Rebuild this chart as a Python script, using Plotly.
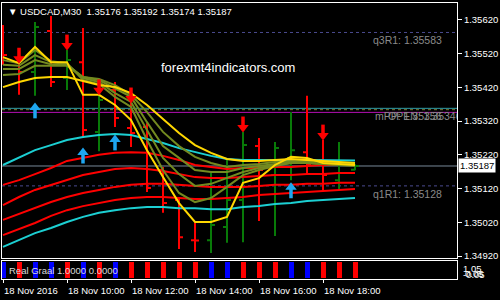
import pandas as pd
import plotly.graph_objects as go

# ---------------- data ----------------
times = pd.date_range("2016-11-18 08:00", periods=23, freq="30min")

opens  = [1.35590,1.35495,1.35466,1.35587,1.35448,1.35495,1.35288,1.35412,1.35300,1.35303,1.35175,1.35086,
          1.34967,1.34967,1.35006,1.35086,1.35246,1.35160,1.35211,1.35228,1.35205,1.35145,1.35176]
highs  = [1.35605,1.35501,1.35614,1.35632,1.35531,1.35596,1.35403,1.35436,1.35412,1.35314,1.35184,1.35095,
          1.35018,1.35166,1.35205,1.35288,1.35270,1.35258,1.35347,1.35395,1.35264,1.35258,1.35192]
lows   = [1.35487,1.35398,1.35395,1.35421,1.35412,1.35270,1.35231,1.35303,1.35243,1.35110,1.35048,1.34941,
          1.34932,1.34929,1.34959,1.34961,1.35024,1.34979,1.35145,1.35160,1.35116,1.35116,1.35174]
closes = [1.35516,1.35466,1.35599,1.35436,1.35501,1.35294,1.35383,1.35329,1.35285,1.35122,1.35077,1.34976,
          1.34966,1.35012,1.35086,1.35249,1.35175,1.35240,1.35234,1.35190,1.35160,1.35190,1.35187]

cyan_upper = [1.35190,1.35211,1.35234,1.35249,1.35264,1.35273,1.35279,1.35282,1.35279,1.35267,1.35255,1.35240,
              1.35228,1.35217,1.35208,1.35205,1.35205,1.35204,1.35204,1.35205,1.35204,1.35203,1.35203]
cyan_lower = [1.34947,1.34967,1.34988,1.35003,1.35021,1.35036,1.35048,1.35056,1.35062,1.35065,1.35065,1.35062,
              1.35062,1.35059,1.35059,1.35065,1.35068,1.35074,1.35077,1.35083,1.35086,1.35089,1.35092]
red_1 = [1.35131,1.35145,1.35163,1.35181,1.35202,1.35211,1.35220,1.35226,1.35228,1.35226,1.35217,1.35205,
         1.35190,1.35184,1.35178,1.35181,1.35181,1.35184,1.35184,1.35187,1.35190,1.35190,1.35193]
red_2 = [1.35071,1.35095,1.35116,1.35131,1.35145,1.35160,1.35169,1.35178,1.35181,1.35178,1.35172,1.35163,
         1.35154,1.35151,1.35151,1.35154,1.35157,1.35160,1.35160,1.35163,1.35163,1.35166,1.35166]
red_3 = [1.35027,1.35045,1.35062,1.35080,1.35095,1.35107,1.35116,1.35125,1.35131,1.35134,1.35134,1.35131,
         1.35128,1.35125,1.35125,1.35125,1.35128,1.35131,1.35131,1.35134,1.35134,1.35137,1.35137]
red_4 = [1.34982,1.35000,1.35018,1.35039,1.35056,1.35068,1.35077,1.35086,1.35092,1.35095,1.35095,1.35092,
         1.35089,1.35089,1.35092,1.35095,1.35101,1.35104,1.35107,1.35110,1.35113,1.35116,1.35119]
yellow_fast = [1.35510,1.35492,1.35540,1.35495,1.35495,1.35398,1.35398,1.35368,1.35323,1.35234,1.35154,1.35077,
               1.35021,1.35021,1.35036,1.35137,1.35151,1.35190,1.35214,1.35211,1.35196,1.35193,1.35190]
yellow_slow = [1.35421,1.35436,1.35448,1.35451,1.35451,1.35439,1.35427,1.35421,1.35403,1.35368,1.35326,1.35285,
               1.35249,1.35226,1.35208,1.35202,1.35202,1.35205,1.35208,1.35205,1.35202,1.35199,1.35196]
olive_1 = [1.35501,1.35492,1.35531,1.35498,1.35492,1.35442,1.35430,1.35392,1.35362,1.35264,1.35175,1.35107,
           1.35080,1.35092,1.35125,1.35160,1.35175,1.35187,1.35196,1.35196,1.35193,1.35190,1.35187]
olive_2 = [1.35487,1.35484,1.35516,1.35495,1.35489,1.35448,1.35436,1.35403,1.35377,1.35294,1.35211,1.35163,
           1.35128,1.35134,1.35151,1.35169,1.35181,1.35190,1.35196,1.35196,1.35193,1.35190,1.35190]
olive_3 = [1.35475,1.35475,1.35501,1.35489,1.35487,1.35451,1.35442,1.35418,1.35392,1.35317,1.35246,1.35211,
           1.35175,1.35169,1.35169,1.35181,1.35187,1.35193,1.35199,1.35199,1.35196,1.35193,1.35193]
olive_4 = [1.35457,1.35460,1.35484,1.35484,1.35484,1.35451,1.35445,1.35427,1.35398,1.35347,1.35288,1.35246,
           1.35214,1.35196,1.35184,1.35190,1.35193,1.35199,1.35202,1.35202,1.35199,1.35196,1.35196]

sell_bars = [1, 4, 6, 8, 15, 20]
sell_tips = [1.35492, 1.35531, 1.35398, 1.35374, 1.35288, 1.35264]
buy_bars = [2, 5, 7, 18]
buy_tips = [1.35374, 1.35240, 1.35279, 1.35137]

graal_dir = ["up","dn","up","up","dn","up","dn","up","dn","dn","dn","dn","dn",
             "up","up","dn","dn","dn","up","up","dn","dn","dn"]
graal_val = [1.0] * 23

levels = {"q3R1": 1.35583, "mPP": 1.35358, "OPEN": 1.35354, "MAG": 1.35346, "q1R1": 1.35128}
price_ticks = [1.34920, 1.35020, 1.35120, 1.35220, 1.35320, 1.35420, 1.35520, 1.35620]
time_tick_idx = [0, 4, 8, 12, 16, 20]
time_tick_text = ["18 Nov 2016", "18 Nov 10:00", "18 Nov 12:00", "18 Nov 14:00", "18 Nov 16:00", "18 Nov 18:00"]

# ---------------- layout helpers ----------------
W, H = 500, 300
ML, MR, MT, MB = 2, 43, 3, 21
plot_w = W - ML - MR
plot_h = H - MT - MB
bar_px = 16.0
step = pd.Timedelta(minutes=30)
x0 = times[0] - step * (1.0 / bar_px)
x1 = x0 + step * (plot_w / bar_px)
y_top, y_bot = 1.356704, 1.349141
main_px = 255.0
ppx = (y_top - y_bot) / main_px
main_dom = [(279 - 258) / plot_h, 1.0]
panel_dom = [0.0, (279 - 261) / plot_h]

def px_x(p):
    return (p - ML) / plot_w

def px_y(p):
    return (H - MB - p) / plot_h

FONT = "Liberation Sans, Arial, sans-serif"
WHITE = "#ffffff"

fig = go.Figure()

# OHLC bars
fig.add_trace(go.Ohlc(
    x=times, open=opens, high=highs, low=lows, close=closes,
    increasing=dict(line=dict(color="#087a08", width=2)),
    decreasing=dict(line=dict(color="#ff0000", width=2)),
    tickwidth=0.25, xaxis="x", yaxis="y", showlegend=False))

# indicator lines
lines = [
    (cyan_lower, "#1ccfd2"), (red_4, "#ff0000"), (red_3, "#ff0000"), (red_2, "#ff0000"),
    (red_1, "#ff0000"), (cyan_upper, "#1ccfd2"),
    (olive_4, "#738a20"), (olive_3, "#738a20"), (olive_2, "#738a20"), (olive_1, "#738a20"),
    (yellow_slow, "#ffd700"), (yellow_fast, "#ffd700"),
]
for vals, col in lines:
    fig.add_trace(go.Scatter(x=times, y=vals, mode="lines", line=dict(color=col, width=2),
                             xaxis="x", yaxis="y", showlegend=False, hoverinfo="skip"))

# arrows
sx = [times[i] for i in sell_bars]
bx = [times[i] for i in buy_bars]
fig.add_trace(go.Scatter(x=sx, y=[t + 4.5 * ppx for t in sell_tips], mode="markers",
                         marker=dict(symbol="triangle-down", size=10, color="#ff0000", line=dict(width=0)),
                         xaxis="x", yaxis="y", showlegend=False, hoverinfo="skip"))
fig.add_trace(go.Scatter(x=sx, y=[t + 10.5 * ppx for t in sell_tips], mode="markers",
                         marker=dict(symbol="line-ns", size=7, line=dict(width=3.5, color="#ff0000")),
                         xaxis="x", yaxis="y", showlegend=False, hoverinfo="skip"))
fig.add_trace(go.Scatter(x=bx, y=[t - 4.5 * ppx for t in buy_tips], mode="markers",
                         marker=dict(symbol="triangle-up", size=10, color="#1ea6f0", line=dict(width=0)),
                         xaxis="x", yaxis="y", showlegend=False, hoverinfo="skip"))
fig.add_trace(go.Scatter(x=bx, y=[t - 10.5 * ppx for t in buy_tips], mode="markers",
                         marker=dict(symbol="line-ns", size=7, line=dict(width=3.5, color="#1ea6f0")),
                         xaxis="x", yaxis="y", showlegend=False, hoverinfo="skip"))

# OPEN label clipped by plot area
fig.add_trace(go.Scatter(x=[x0 + (x1 - x0) * px_x(388)], y=[levels["OPEN"] - 8 * ppx], mode="text",
                         text=["OPEN: 1.35346"], textposition="middle right",
                         textfont=dict(family=FONT, size=10.5, color="#8a8a8a"),
                         cliponaxis=True, xaxis="x", yaxis="y", showlegend=False, hoverinfo="skip"))

# indicator panel
fig.add_trace(go.Bar(x=times, y=graal_val,
                     marker=dict(color=["#0000ff" if d == "up" else "#ff0000" for d in graal_dir], line=dict(width=0)),
                     width=5 / bar_px * 30 * 60 * 1000, xaxis="x2", yaxis="y2", showlegend=False, hoverinfo="skip"))

shapes = []
def hline(v, col, dash="solid"):
    shapes.append(dict(type="line", xref="paper", x0=0, x1=1, yref="y", y0=v, y1=v,
                       line=dict(color=col, width=1, dash=dash), layer="below"))

hline(levels["q3R1"], "#4b4b8f", "3px,3px")
hline(levels["mPP"], "#2f9ea6")
hline(levels["OPEN"], "#7a7a35", "3px,3px")
hline(levels["MAG"], "#b40fb4")
hline(closes[-1], "#778899")
hline(levels["q1R1"], "#4b4b8f", "3px,3px")

ann = []
ann.append(dict(xref="paper", yref="paper", x=px_x(6), y=px_y(11), xanchor="left", yanchor="middle",
                text="▼ USDCAD,M30\u00a0\u00a0" + " ".join(f"{v:.5f}" for v in
                     [opens[-1], highs[-1], lows[-1], closes[-1]]),
                showarrow=False, font=dict(family=FONT, size=9.5, color=WHITE)))
ann.append(dict(xref="paper", yref="paper", x=px_x(227.5), y=px_y(67), xanchor="center", yanchor="middle",
                text="forexmt4indicators.com", showarrow=False, font=dict(family=FONT, size=13, color=WHITE)))
for key, txt in [("q3R1", "q3R1: 1.35583"), ("mPP", "mPP: 1.35356"), ("q1R1", "q1R1: 1.35128")]:
    ann.append(dict(xref="paper", yref="y", x=px_x(444), y=levels[key], xanchor="right", yanchor="middle",
                    yshift=-8, text=txt, showarrow=False, font=dict(family=FONT, size=10.5, color="#8a8a8a")))
ann.append(dict(xref="paper", yref="y", x=1, y=closes[-1], xanchor="left", yanchor="middle", xshift=1,
                text=f"{closes[-1]:.5f}", showarrow=False, bgcolor=WHITE, borderpad=1,
                font=dict(family=FONT, size=9.5, color="#000000")))
ann.append(dict(xref="paper", yref="paper", x=px_x(7), y=px_y(270), xanchor="left", yanchor="middle",
                text="Real Graal 1.0000 0.0000", showarrow=False, font=dict(family=FONT, size=9.5, color="#dcdcdc")))
ann.append(dict(xref="paper", yref="paper", x=px_x(461), y=px_y(268), xanchor="left", yanchor="middle",
                text="1.05", showarrow=False, font=dict(family=FONT, size=9.5, color=WHITE)))
ann.append(dict(xref="paper", yref="paper", x=px_x(461), y=px_y(274), xanchor="left", yanchor="middle",
                text="-0.05", showarrow=False, font=dict(family=FONT, size=9.5, color=WHITE)))
ann.append(dict(xref="paper", yref="paper", x=px_x(463), y=px_y(273), xanchor="left", yanchor="middle",
                text="0.05", showarrow=False, font=dict(family=FONT, size=9.5, color=WHITE)))
# time labels, left-aligned at their ticks
for i, txt in zip(time_tick_idx, time_tick_text):
    ann.append(dict(xref="x2", yref="paper", x=times[i], y=px_y(290), xanchor="left", yanchor="middle",
                    xshift=-1, text=txt, showarrow=False, font=dict(family=FONT, size=9.5, color=WHITE)))

axis_common = dict(showgrid=False, zeroline=False, showline=True, mirror=True, linecolor=WHITE,
                   linewidth=1, automargin=False)

fig.update_layout(
    width=W, height=H, margin=dict(l=ML, r=MR, t=MT, b=MB, autoexpand=False),
    paper_bgcolor="#000000", plot_bgcolor="#000000",
    showlegend=False, bargap=0, shapes=shapes, annotations=ann,
    xaxis=dict(domain=[0, 1], anchor="y", range=[x0, x1], showticklabels=False, ticks="",
               rangeslider=dict(visible=False), **axis_common),
    yaxis=dict(domain=main_dom, anchor="x", side="right", range=[y_bot, y_top],
               tickvals=price_ticks, ticktext=[f"{v:.5f}" for v in price_ticks],
               ticks="outside", ticklen=4, tickcolor=WHITE,
               tickfont=dict(family=FONT, size=9.5, color=WHITE), **axis_common),
    xaxis2=dict(domain=[0, 1], anchor="y2", matches="x", range=[x0, x1],
                tickvals=[times[i] for i in time_tick_idx], showticklabels=False,
                ticks="outside", ticklen=3, tickcolor=WHITE, **axis_common),
    yaxis2=dict(domain=panel_dom, anchor="x2", side="right", range=[-0.05, 1.05],
                showticklabels=False, ticks="", **axis_common),
)

fig.write_html("out.html", config={"displayModeBar": False})
